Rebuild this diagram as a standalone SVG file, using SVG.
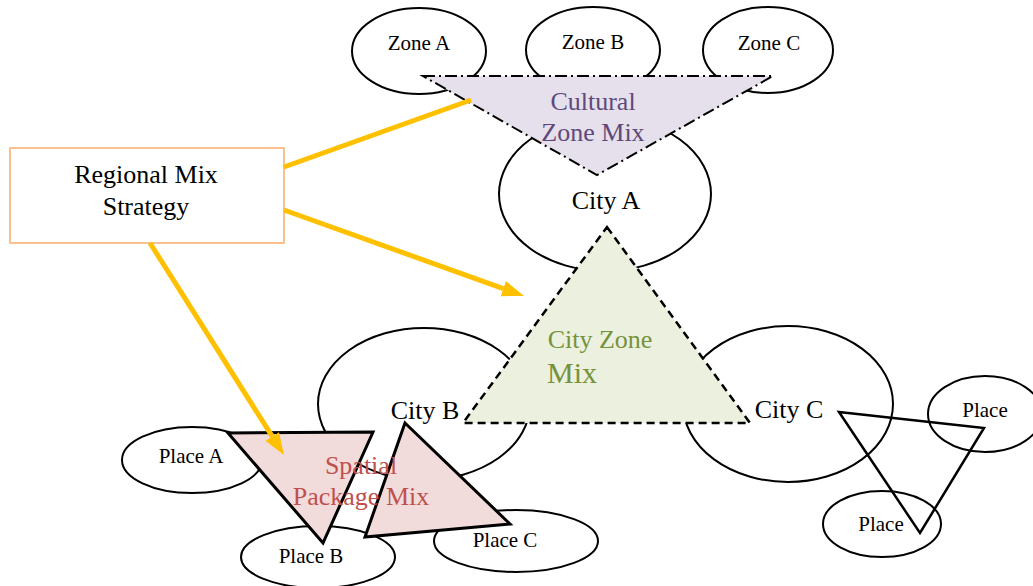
<svg xmlns="http://www.w3.org/2000/svg" width="1033" height="586" viewBox="0 0 1033 586">
<style>
.el{fill:#ffffff;stroke:#000;stroke-width:2}
.t{font-family:"Liberation Serif","Times New Roman",serif;text-anchor:middle;fill:#000}
.s21{font-size:21px}
.s25{font-size:26px}
.s26{font-size:26px}
.con{stroke:#ffc000;stroke-width:5;fill:none}
</style>
<defs>
<marker id="ah" markerUnits="userSpaceOnUse" markerWidth="24" markerHeight="18" refX="0" refY="8" orient="auto">
<path d="M0,0 L22,8 L0,16 z" fill="#ffc000"/>
</marker>
</defs>
<rect width="1033" height="586" fill="#ffffff"/>

<g id="zone-a"><ellipse class="el" cx="419" cy="51" rx="67" ry="43"/><text class="t s21" x="419" y="50">Zone A</text></g>
<g id="zone-b"><ellipse class="el" cx="593" cy="50" rx="67" ry="43"/><text class="t s21" x="593" y="49">Zone B</text></g>
<g id="zone-c"><ellipse class="el" cx="768" cy="50" rx="65" ry="43"/><text class="t s21" x="769" y="50">Zone C</text></g>

<g id="city-a"><ellipse class="el" cx="605" cy="194" rx="106" ry="77"/><text class="t s25" x="606" y="209">City A</text></g>

<g id="cultural-zone-mix">
<polygon points="423,76 773,76 597,175" fill="#e5e0ec" stroke="#000" stroke-width="2" stroke-dasharray="12 4 2 4"/>
<text class="t s26" x="593" y="110" style="fill:#5f497a">Cultural</text>
<text class="t s26" x="593" y="141" style="fill:#5f497a">Zone Mix</text>
</g>

<g id="regional-mix-strategy">
<rect x="10" y="148" width="274" height="95" fill="#ffffff" stroke="#fac090" stroke-width="2"/>
<text class="t s25" x="146" y="183">Regional Mix</text>
<text class="t s25" x="146" y="215">Strategy</text>
</g>

<g id="city-b"><ellipse class="el" cx="424" cy="404" rx="106" ry="76"/></g>
<g id="city-c"><ellipse class="el" cx="788" cy="404" rx="105" ry="78"/></g>

<g id="city-zone-mix">
<polygon points="607,227 750,423 463,423" fill="#ebf1de" stroke="#000" stroke-width="2.5" stroke-dasharray="8 5"/>
<text class="t s26" x="600" y="348" style="fill:#76923c">City Zone</text>
<text class="t" x="572" y="383" font-size="30" style="fill:#76923c">Mix</text>
</g>
<text class="t s25" x="425" y="419">City B</text>
<text class="t s25" x="789" y="418">City C</text>

<g id="place-a"><ellipse class="el" cx="192" cy="460" rx="70" ry="33"/><text class="t s21" x="191" y="463">Place A</text></g>
<g id="place-b"><ellipse class="el" cx="318" cy="557" rx="77" ry="31"/></g>
<g id="place-c"><ellipse class="el" cx="516" cy="541" rx="82" ry="31"/></g>

<g id="spatial-package-mix">
<polygon points="228,433 373,432 323,543" fill="#f2dcdb" stroke="#000" stroke-width="3"/>
<polygon points="405,423 510,524 365,537" fill="#f2dcdb" stroke="#000" stroke-width="3"/>
<text class="t s26" x="361" y="474" style="fill:#c0504d">Spatial</text>
<text class="t s26" x="361" y="505" style="fill:#c0504d">Package Mix</text>
</g>
<text class="t s21" x="311" y="563">Place B</text>
<text class="t s21" x="505" y="547">Place C</text>

<g id="place-right"><ellipse class="el" cx="985" cy="414" rx="57" ry="38"/><text class="t s21" x="985" y="417">Place</text></g>
<g id="place-bottom"><ellipse class="el" cx="882" cy="524" rx="59" ry="33"/><text class="t s21" x="881" y="531">Place</text></g>
<g id="city-c-place-mix">
<polygon points="839,412 984,428 920,533" fill="none" stroke="#000" stroke-width="2.5"/>
</g>

<g id="connectors">
<line class="con" x1="284" y1="167" x2="471" y2="100"/>
<line class="con" x1="284" y1="210" x2="503.3" y2="288.6" marker-end="url(#ah)"/>
<line class="con" x1="150" y1="243" x2="272.2" y2="436.4" marker-end="url(#ah)"/>
</g>
</svg>
